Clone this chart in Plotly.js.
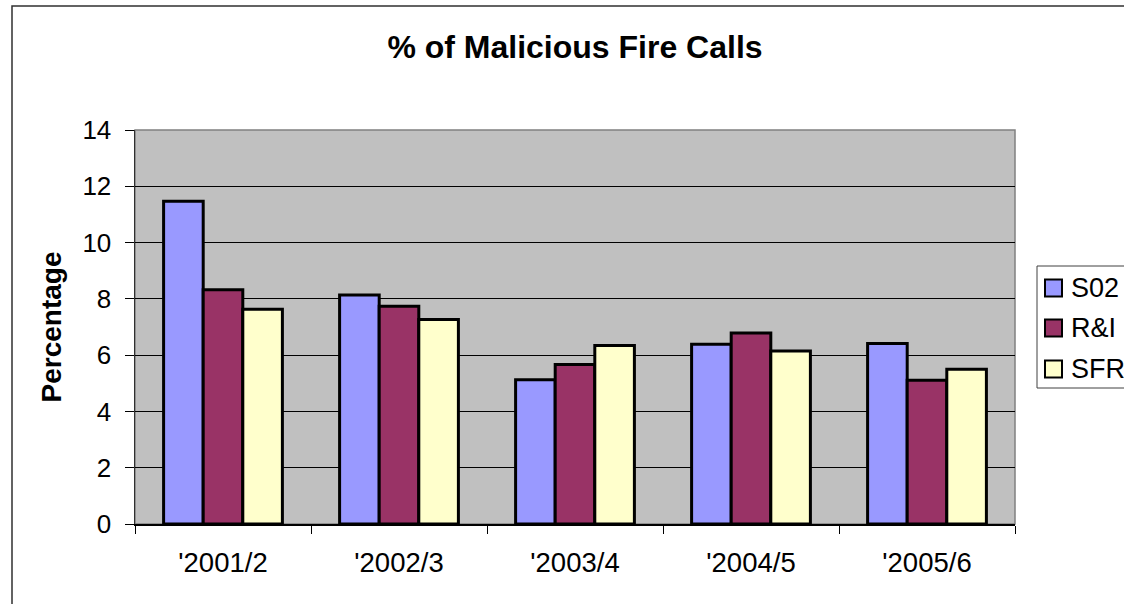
<!DOCTYPE html>
<html>
<head>
<meta charset="utf-8">
<script src="https://cdn.plot.ly/plotly-3.0.1.min.js"></script>
<style>
  html, body { margin: 0; padding: 0; background: #ffffff; }
  #chart { width: 1124px; height: 604px; }
</style>
</head>
<body>
<div id="chart"></div>
<script>
// Financial years on the category axis
const years = ["'2001/2", "'2002/3", "'2003/4", "'2004/5", "'2005/6"];

// Percentage of fire calls that were malicious, per area
const seriesNames = ["S02", "R&I", "SFR"];
const s02 = [11.47, 8.14, 5.13, 6.39, 6.41];
const rAndI = [8.32, 7.74, 5.67, 6.79, 5.11];
const sfr = [7.63, 7.27, 6.34, 6.15, 5.50];
const seriesColors = ["#9999FF", "#993366", "#FFFFCC"];

const FONT = "Liberation Sans, Arial, Helvetica, sans-serif";
const W = 1124, H = 604;
const M = { l: 135, r: 109, t: 130, b: 80 };
const plotW = W - M.l - M.r;
const plotH = H - M.t - M.b;

// pixel position -> paper coordinate helpers
const px2x = px => (px - M.l) / plotW;
const py2y = py => (H - M.b - py) / plotH;

const values = [s02, rAndI, sfr];
const traces = values.map((v, i) => ({
  type: "bar",
  name: seriesNames[i],
  x: years,
  y: v,
  marker: { color: seriesColors[i], line: { color: "#000000", width: 3 } },
  hoverinfo: "x+y+name"
}));

const shapes = [
  // outer chart frame
  { type: "rect", xref: "paper", yref: "paper", layer: "below",
    x0: px2x(12), x1: px2x(1140), y0: py2y(620), y1: py2y(6),
    line: { color: "#303030", width: 1.5 }, fillcolor: "rgba(0,0,0,0)" },
  // plot area border
  { type: "rect", xref: "paper", yref: "paper", layer: "between",
    x0: 0, x1: 1, y0: 0, y1: 1,
    line: { color: "#808080", width: 1.5 }, fillcolor: "rgba(0,0,0,0)" },
  // legend box
  { type: "rect", xref: "paper", yref: "paper", layer: "above",
    x0: px2x(1037), x1: px2x(1140), y0: py2y(388), y1: py2y(266),
    line: { color: "#404040", width: 1 }, fillcolor: "#ffffff" }
];

const annotations = [];
const legendRows = [288, 328, 369];
seriesNames.forEach((name, i) => {
  const cy = legendRows[i];
  shapes.push({
    type: "rect", xref: "paper", yref: "paper", layer: "above",
    x0: px2x(1045), x1: px2x(1062), y0: py2y(cy + 8.5), y1: py2y(cy - 8.5),
    line: { color: "#000000", width: 2 }, fillcolor: seriesColors[i]
  });
  annotations.push({
    xref: "paper", yref: "paper", x: px2x(1069), y: py2y(cy),
    xanchor: "left", yanchor: "middle", showarrow: false,
    text: name, font: { family: FONT, size: 27, color: "#000000" }
  });
});

const layout = {
  width: W, height: H,
  margin: M,
  paper_bgcolor: "#ffffff",
  plot_bgcolor: "#C0C0C0",
  showlegend: false,
  barmode: "group",
  bargap: 0.325,
  bargroupgap: 0,
  title: {
    text: "<b>% of Malicious Fire Calls</b>",
    font: { family: FONT, size: 32, color: "#000000" },
    x: 0.5, xref: "paper", xanchor: "center",
    y: 1 - 47 / H, yref: "container", yanchor: "middle"
  },
  xaxis: {
    type: "category",
    showgrid: false,
    showline: true, linecolor: "#000000", linewidth: 1.5,
    ticks: "outside", tickson: "boundaries", ticklen: 8, tickcolor: "#000000", tickwidth: 1,
    tickfont: { family: FONT, size: 27.5, color: "#000000" },
    ticklabelstandoff: 13,
    zeroline: false
  },
  yaxis: {
    range: [0, 14], dtick: 2, tick0: 0,
    showgrid: true, gridcolor: "#000000", gridwidth: 1,
    showline: true, linecolor: "#303030", linewidth: 1.5,
    ticks: "outside", ticklen: 9, tickcolor: "#000000", tickwidth: 1,
    tickfont: { family: FONT, size: 26, color: "#000000" },
    ticklabelstandoff: 8,
    zeroline: false,
    title: {
      text: "<b>Percentage</b>",
      font: { family: FONT, size: 28, color: "#000000" },
      standoff: 12
    }
  },
  shapes: shapes,
  annotations: annotations
};

Plotly.newPlot("chart", traces, layout, { displayModeBar: false, staticPlot: true });
</script>
</body>
</html>
